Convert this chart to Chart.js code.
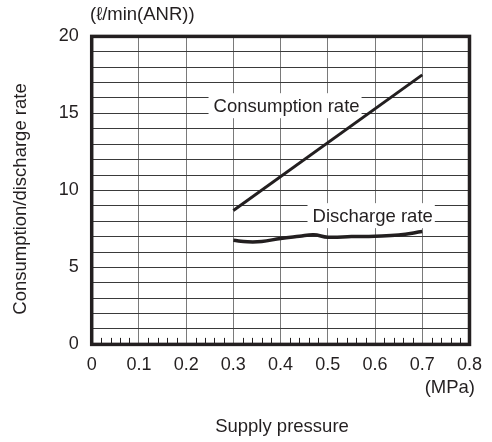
<!DOCTYPE html>
<html>
<head>
<meta charset="utf-8">
<script src="https://cdn.jsdelivr.net/npm/chart.js@4.4.0/dist/chart.umd.min.js"></script>
<style>
    html, body { margin: 0; padding: 0; background: #fff; }
    #wrap { width: 492px; height: 442px; }
</style>
</head>
<body>
<div id="wrap"><canvas id="chart" width="492" height="442"></canvas></div>
<script>
// supply pressure (MPa) vs flow (ℓ/min(ANR))
const consumptionX = [0.3, 0.7];
const consumptionY = [8.7, 17.5];
const dischargeX = [0.30, 0.33, 0.36, 0.40, 0.44, 0.47, 0.50, 0.55, 0.60, 0.65, 0.70];
const dischargeY = [6.76, 6.66, 6.68, 6.88, 7.02, 7.12, 6.96, 7.00, 7.03, 7.10, 7.33];

const xTicks = [0, 0.1, 0.2, 0.3, 0.4, 0.5, 0.6, 0.7, 0.8];
const yGrid = [0, 1, 2, 3, 4, 5, 6, 7, 8, 9, 10, 11, 12, 13, 14, 15, 16, 17, 18, 19, 20];
const yTickLabels = [0, 5, 10, 15, 20];
const xMinorStep = 0.02;

const seriesNames = ['Consumption rate', 'Discharge rate'];
// where each series name sits (data coords: left edge of text, middle)
const nameX = [0.258, 0.4676];
const nameY = [15.5, 8.36];

const FONT = "'Liberation Sans', Arial, Helvetica, sans-serif";
const TEXT_SIZE = 18.5;
const ink = '#231f20';

function toPoints(xs, ys) {
    return xs.map((x, i) => ({ x: x, y: ys[i] }));
}

// white callout boxes with series names, drawn over the grid
const seriesNamesPlugin = {
    id: 'seriesNames',
    beforeDatasetsDraw(chart) {
        const ctx = chart.ctx;
        const xs = chart.scales.x, ys = chart.scales.y;
        ctx.save();
        ctx.font = TEXT_SIZE + 'px ' + FONT;
        ctx.textBaseline = 'middle';
        ctx.textAlign = 'left';
        seriesNames.forEach((name, i) => {
            const px = xs.getPixelForValue(nameX[i]);
            const py = ys.getPixelForValue(nameY[i]);
            const w = ctx.measureText(name).width;
            ctx.fillStyle = '#fff';
            ctx.fillRect(px - 5, py - 12.5, w + 7, 25);
            ctx.fillStyle = ink;
            ctx.fillText(name, px, py + 1);
        });
        ctx.restore();
    }
};

// frame, minor ticks and the loose texts
const framePlugin = {
    id: 'frame',
    afterDraw(chart) {
        const ctx = chart.ctx;
        const a = chart.chartArea;
        const xs = chart.scales.x;
        ctx.save();

        // minor ticks on the bottom edge
        ctx.strokeStyle = ink;
        ctx.lineWidth = 1;
        for (let k = 0; k * xMinorStep <= 0.8 + 1e-9; k++) {
            if (k % 5 === 0) continue;
            const px = Math.round(xs.getPixelForValue(k * xMinorStep)) + 0.5;
            ctx.beginPath();
            ctx.moveTo(px, a.bottom);
            ctx.lineTo(px, a.bottom - 6.5);
            ctx.stroke();
        }

        ctx.lineWidth = 3.5;
        ctx.strokeRect(a.left, a.top, a.right - a.left, a.bottom - a.top);

        ctx.fillStyle = ink;
        ctx.font = TEXT_SIZE + 'px ' + FONT;
        ctx.textBaseline = 'middle';

        ctx.textAlign = 'left';
        ctx.fillText('(ℓ/min(ANR))', 90, 15);

        ctx.textAlign = 'right';
        ctx.fillText('(MPa)', 475, 388);

        ctx.textAlign = 'center';
        ctx.fillText('Supply pressure', 282, 427);

        ctx.translate(21, 199);
        ctx.rotate(-Math.PI / 2);
        ctx.fillText('Consumption/discharge rate', 0, 0);
        ctx.restore();
    }
};

new Chart(document.getElementById('chart'), {
    type: 'line',
    data: {
        datasets: [
            {
                label: seriesNames[0],
                data: toPoints(consumptionX, consumptionY),
                borderColor: ink,
                borderWidth: 3,
                pointRadius: 0,
                tension: 0
            },
            {
                label: seriesNames[1],
                data: toPoints(dischargeX, dischargeY),
                borderColor: ink,
                borderWidth: 3.5,
                pointRadius: 0,
                tension: 0.4
            }
        ]
    },
    options: {
        responsive: false,
        animation: false,
        devicePixelRatio: 1,
        layout: { padding: { top: 36.4, right: 18.1, left: 0, bottom: 0 } },
        plugins: {
            legend: { display: false },
            tooltip: { enabled: false }
        },
        scales: {
            x: {
                type: 'linear',
                min: 0,
                max: 0.8,
                afterBuildTicks: s => { s.ticks = xTicks.map(v => ({ value: v })); },
                afterFit: s => { s.height = 442 - 344.4; },
                border: { display: false },
                grid: { color: '#7a7a7a', lineWidth: 1, drawTicks: false },
                ticks: {
                    autoSkip: false,
                    maxRotation: 0,
                    padding: 10,
                    color: ink,
                    font: { family: FONT, size: 18 },
                    callback: v => String(+(+v).toFixed(1))
                }
            },
            y: {
                min: 0,
                max: 20,
                afterBuildTicks: s => { s.ticks = yGrid.map(v => ({ value: v })); },
                afterFit: s => { s.width = 91.7; },
                border: { display: false },
                grid: { color: '#3a3a3a', lineWidth: 1, drawTicks: false },
                ticks: {
                    autoSkip: false,
                    padding: 13,
                    color: ink,
                    font: { family: FONT, size: 18 },
                    callback: v => yTickLabels.includes(v) ? String(v) : ''
                }
            }
        }
    },
    plugins: [seriesNamesPlugin, framePlugin]
});
</script>
</body>
</html>
